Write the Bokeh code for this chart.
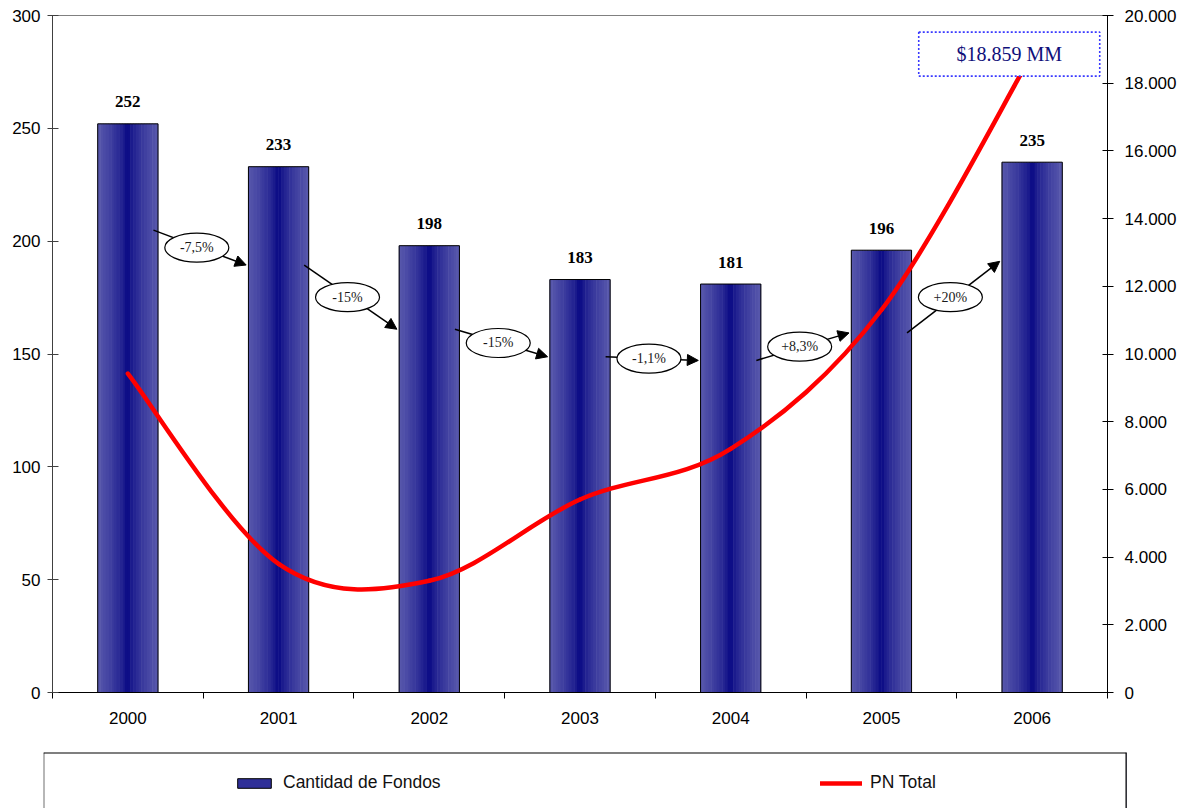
import numpy as np
from bokeh.plotting import figure
from bokeh.models import (Range1d, LinearAxis, FixedTicker, Arrow, NormalHead,
                          ColumnDataSource, Legend, LegendItem, Span)
from bokeh.layouts import column, row
from bokeh.core.properties import value
from bokeh.embed import file_html
from bokeh.resources import INLINE

# ---------------- data ----------------
years = ["2000", "2001", "2002", "2003", "2004", "2005", "2006"]
fondos = [252, 233, 198, 183, 181, 196, 235]
pn_total = [9420, 3800, 3300, 5700, 7200, 11300, 18859]
pct_labels = ["-7,5%", "-15%", "-15%", "-1,1%", "+8,3%", "+20%"]
left_ticks = [0, 50, 100, 150, 200, 250, 300]
right_ticks = [0, 2000, 4000, 6000, 8000, 10000, 12000, 14000, 16000, 18000, 20000]
right_tick_labels = ["0", "2.000", "4.000", "6.000", "8.000", "10.000", "12.000",
                     "14.000", "16.000", "18.000", "20.000"]
pn_note = "$18.859 MM"

SANS = "Liberation Sans"
SERIF = "Liberation Serif"

n = len(years)
xc = np.arange(n) + 0.5

p = figure(width=1181, height=752, title=None, toolbar_location=None,
           output_backend="svg", x_range=Range1d(0, n), y_range=Range1d(0, 300),
           min_border_left=52, min_border_right=74, min_border_top=15,
           min_border_bottom=60)
p.extra_y_ranges = {"right": Range1d(0, 20000)}
p.xgrid.visible = False
p.ygrid.visible = False
p.outline_line_color = "#808080"
p.background_fill_color = "white"
p.border_fill_color = "white"

# ---- axes ----
xa = p.xaxis[0]
xa.ticker = FixedTicker(ticks=list(xc), minor_ticks=list(range(n + 1)))
xa.major_label_overrides = {float(x): y for x, y in zip(xc, years)}
xa.major_tick_line_color = None
xa.major_tick_out = 6
xa.major_tick_in = 0
xa.minor_tick_line_color = "black"
xa.minor_tick_out = 6
xa.minor_tick_in = 0
xa.axis_line_color = "black"
xa.major_label_standoff = 13
xa.major_label_text_font = SANS
xa.major_label_text_font_size = "17px"
xa.major_label_text_color = "black"

ya = p.yaxis[0]
ya.ticker = FixedTicker(ticks=left_ticks)
ya.major_tick_in = 6
ya.major_tick_out = 5
ya.minor_tick_line_color = None
ya.axis_line_color = "#404040"
ya.major_tick_line_color = "#404040"
ya.major_label_standoff = 7
ya.major_label_text_font = SANS
ya.major_label_text_font_size = "17px"
ya.major_label_text_color = "black"

ra = LinearAxis(y_range_name="right",
                ticker=FixedTicker(ticks=right_ticks),
                major_label_overrides={t: l for t, l in zip(right_ticks, right_tick_labels)})
ra.major_tick_in = 5
ra.major_tick_out = 6
ra.minor_tick_line_color = None
ra.axis_line_color = "black"
ra.major_label_standoff = 11
ra.major_label_text_font = SANS
ra.major_label_text_font_size = "17px"
ra.major_label_text_color = "black"
p.add_layout(ra, "right")

# ---- bars with horizontal gradient (stripes) ----
bar_w = 0.40
N = 22
edge = np.array([88, 88, 172])
center = np.array([0, 0, 128])
sx, stop, scol = [], [], []
sw = bar_w / N
for k in range(N):
    off = -bar_w / 2 + (k + 0.5) * sw
    t = abs(off) / (bar_w / 2)
    c = center + (edge - center) * (t ** 0.6)
    col = "#%02x%02x%02x" % tuple(int(round(v)) for v in c)
    for i in range(n):
        sx.append(xc[i] + off)
        stop.append(fondos[i])
        scol.append(col)
p.vbar(x=sx, top=stop, bottom=0, width=sw * 1.2, fill_color=scol, line_color=None)
p.vbar(x=xc, top=fondos, bottom=0, width=bar_w, fill_color=None,
       line_color="black", line_width=1)

# value labels
p.text(x=xc, y=fondos, text=[str(v) for v in fondos], text_align="center",
       text_baseline="alphabetic", y_offset=-22, text_font=value(SERIF),
       text_font_style="bold", text_font_size="17px", text_color="black")

# ---- smooth red line (Catmull-Rom as cubic Bezier segments) ----
px = np.array(xc, dtype=float)
py = np.array(pn_total, dtype=float)
prev_x = np.concatenate([[px[0]], px[:-1]])
next_x = np.concatenate([px[1:], [px[-1]]])
prev_y = np.concatenate([[py[0]], py[:-1]])
next_y = np.concatenate([py[1:], [py[-1]]])
mx = (next_x - prev_x) / 2
my = (next_y - prev_y) / 2
p.bezier(x0=px[:-1], y0=py[:-1], x1=px[1:], y1=py[1:],
         cx0=px[:-1] + mx[:-1] / 3, cy0=py[:-1] + my[:-1] / 3,
         cx1=px[1:] - mx[1:] / 3, cy1=py[1:] - my[1:] / 3,
         line_color="red", line_width=4.5, line_cap="round", y_range_name="right")

# ---- change arrows with ellipse labels ----
f = 0.813
xs = xc[:-1] + 0.17
xe = xc[1:] - 0.215
ys = f * np.array(fondos[:-1], dtype=float)
ye = f * np.array(fondos[1:], dtype=float)
asrc = ColumnDataSource(dict(xs=xs, ys=ys, xe=xe, ye=ye))
p.add_layout(Arrow(end=NormalHead(size=11, fill_color="black", line_color="black"),
                   x_start="xs", y_start="ys", x_end="xe", y_end="ye",
                   source=asrc, line_width=1.5, line_color="black"))
mxp = (xs + xe) / 2 - 0.02
myp = (ys + ye) / 2
p.ellipse(x=mxp, y=myp, width=64, height=29, width_units="screen",
          height_units="screen", fill_color="white", line_color="black",
          line_width=1.2, level="overlay")
p.text(x=mxp, y=myp, text=pct_labels, text_align="center", text_baseline="middle",
       text_font=value(SERIF), text_font_size="14px", text_color="#1a1a1a",
       level="overlay")

# ---- total note box ----
note_x = [xc[-1] - 0.152]
p.rect(x=note_x, y=[pn_total[-1]], width=181, height=44, width_units="screen",
       height_units="screen", fill_color="white", line_color="#3a3aff",
       line_width=1.6, line_dash="2 2", y_range_name="right", level="overlay")
p.text(x=note_x, y=[pn_total[-1]], text=[pn_note], text_align="center",
       text_baseline="middle", text_font=value(SERIF), text_font_size="20px",
       text_color="#10107a", y_range_name="right", level="overlay")

# ---------------- legend figure ----------------
lf = figure(width=1181, height=56, title=None, toolbar_location=None,
            output_backend="svg", x_range=Range1d(0, 1), y_range=Range1d(0, 1),
            x_axis_location=None, y_axis_location=None,
            min_border_left=43, min_border_right=55, min_border_top=0,
            min_border_bottom=0)
lf.grid.visible = False
lf.outline_line_color = None
r1 = lf.vbar(x=[5], top=[5], width=0.1, fill_color="#2f2f98", line_color="black",
             line_width=1)
r2 = lf.line(x=[5, 6], y=[5, 5], line_color="red", line_width=4.5, line_cap="round")
leg = Legend(items=[LegendItem(label="Cantidad de Fondos", renderers=[r1]),
                    LegendItem(label="PN Total", renderers=[r2])],
             orientation="horizontal", location=(190, 15), glyph_width=42,
             glyph_height=12, label_standoff=8, label_width=527, spacing=10,
             padding=0, margin=0, border_line_color=None, background_fill_alpha=0,
             label_text_font=SANS, label_text_font_size="17.5px",
             label_text_color="#111111")
lf.add_layout(leg)
lf.add_layout(Span(location=0, dimension="height", line_color="#707070", line_width=2))
lf.add_layout(Span(location=1, dimension="height", line_color="black", line_width=2))
lf.add_layout(Span(location=1, dimension="width", line_color="black", line_width=2))

layout = column(p, row(lf))
open("out.html", "w").write(file_html(layout, INLINE))
